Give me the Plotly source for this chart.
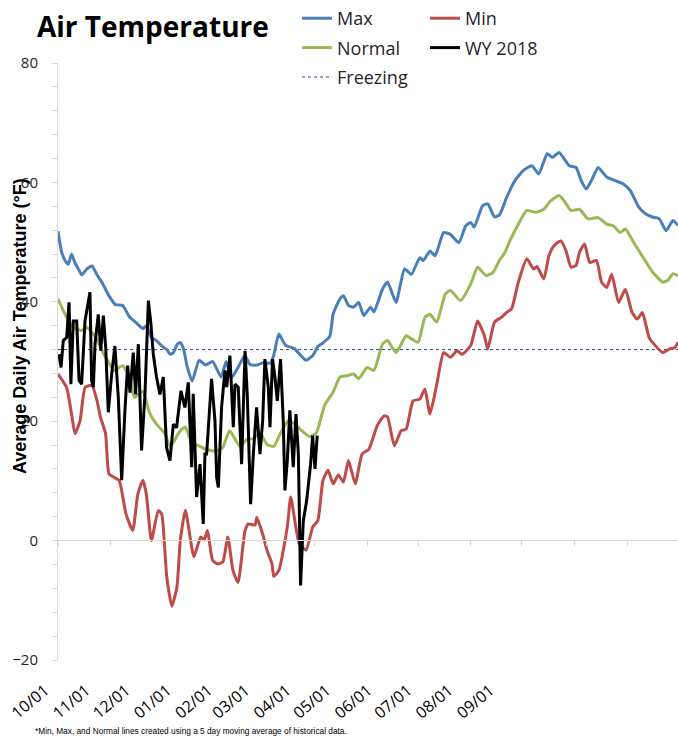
import pandas as pd
import plotly.graph_objects as go

START = pd.Timestamp("2017-10-01")
YEAR_DAYS = 365
FREEZING = 32

month_labels = ["10/01", "11/01", "12/01", "01/01", "02/01", "03/01",
                "04/01", "05/01", "06/01", "07/01", "08/01", "09/01"]

max_days = [0, 2, 4, 6, 8, 10, 12, 14, 17, 20, 23, 26, 30, 34, 38, 42, 46, 50, 52, 55,
            58, 61, 64, 66, 68, 70, 72, 74, 76, 79, 83, 87, 91, 96, 99, 102, 106, 110,
            113, 117, 121, 125, 127, 130, 134, 139, 143, 146, 150, 153, 156, 160, 162,
            166, 168, 171, 174, 177, 180, 184, 186, 191, 194, 199, 204, 208, 213, 215,
            219, 222, 227, 231, 236, 240, 243, 245, 250, 253, 257, 260, 264, 269, 274,
            279, 283, 288, 291, 295, 301, 305, 308, 311, 314, 318, 323, 328, 333, 337,
            342, 346, 350, 354, 358, 362, 365]
max_vals = [51.8, 48.5, 47, 46.3, 48, 46.5, 45.5, 44.5, 45.5, 46, 44.5, 43.2, 41, 39.5,
            39.4, 37.5, 36.5, 35.5, 36, 34, 33.5, 32.6, 32, 31.2, 31.5, 32.8, 33.2, 32,
            29.2, 26.7, 30.2, 29.4, 30, 27.4, 30, 27.2, 29, 31, 29.5, 29.4, 29.8, 29.7,
            31, 34.6, 32.7, 32.2, 31, 30.2, 31, 32.5, 33.1, 34.2, 38, 40.5, 41, 39.4,
            39.1, 39.9, 37.7, 39.1, 38.3, 42.1, 43.3, 39.9, 45.5, 44.6, 47.4, 46.9, 48.5,
            47.7, 51.6, 51.3, 49.9, 52.7, 53.3, 52.5, 56.1, 56.4, 54.2, 54.6, 57.4, 60.3,
            62, 62.8, 61.4, 64.8, 64.2, 65, 62.8, 62.5, 60.3, 58.9, 60.3, 62.5, 60.9,
            60.3, 59.7, 58.6, 55.8, 54.7, 54.2, 53.9, 51.9, 53.6, 52.8]

normal_days = [0, 4, 9, 14, 17, 22, 28, 33, 38, 42, 45, 50, 54, 58, 63, 66, 70, 72, 75,
               79, 82, 87, 93, 97, 101, 107, 111, 115, 119, 123, 127, 131, 136, 142, 148,
               152, 157, 162, 166, 170, 174, 177, 182, 186, 191, 194, 199, 205, 208, 212,
               216, 219, 223, 228, 231, 237, 243, 247, 252, 256, 260, 263, 266, 271, 276,
               281, 286, 290, 295, 298, 302, 307, 312, 318, 323, 327, 331, 334, 339, 345,
               350, 356, 359, 362, 365]
normal_vals = [40.5, 38, 35.7, 35.2, 35.7, 34.1, 30.7, 28.5, 29.3, 27.4, 24, 25, 21.3,
               19.5, 17.9, 15.7, 17.5, 18.4, 19, 16.2, 16, 15.3, 15, 15.6, 18.4, 15.8,
               16.9, 17.1, 18, 16.1, 15.8, 18, 20.2, 18.8, 17.4, 18, 22.7, 24.9, 27.4,
               27.6, 27.9, 27.1, 29, 28.5, 32.9, 33.5, 31.5, 34.3, 33.8, 33.2, 37.4, 37.9,
               36.6, 41.3, 41.9, 40.2, 43, 45.8, 44.4, 44.9, 47, 48.2, 50.2, 53, 55.3, 55,
               55.5, 56.9, 57.8, 56.9, 55.3, 55.5, 53.9, 54.1, 53, 52.7, 51.6, 52.2, 49.9,
               47.2, 45, 43.3, 43.6, 44.7, 44.4]

min_days = [0, 5, 8, 10, 13, 16, 20, 23, 25, 28, 30, 33, 36, 40, 44, 47, 50, 52, 55, 59,
            61, 64, 67, 70, 72, 75, 80, 84, 86, 88, 91, 94, 97, 100, 103, 106, 110, 112,
            116, 117, 121, 123, 126, 127, 130, 135, 137, 140, 142, 146, 150, 153, 156,
            159, 162, 165, 168, 171, 175, 179, 183, 188, 192, 194, 198, 202, 205, 209,
            213, 216, 219, 223, 227, 231, 235, 238, 243, 247, 251, 253, 257, 261, 264,
            267, 271, 276, 280, 282, 286, 289, 292, 296, 299, 302, 305, 307, 310, 313,
            317, 320, 323, 326, 330, 334, 338, 341, 344, 348, 350, 356, 360, 363, 365]
min_vals = [27.9, 25.7, 21.2, 17.9, 20.1, 25.7, 26, 23.4, 20.7, 17.9, 11.2, 10.6, 10.1,
            4.5, 1.7, 7.8, 10.1, 7.8, 0, 5, 4.5, -6, -11, -7.8, 0, 5.1, -2.7, 0.6, 0.1,
            1.7, -3.3, -3.9, -3.6, 0.6, -5, -7, 1.5, 2.8, 2.6, 3.9, 0.6, -1.6, -3.9, -6,
            -5, 2.3, 7.3, 2.3, -0.5, -1.6, 2.3, 3.4, 10.1, 11.8, 9.5, 11, 9.8, 13.4, 9.5,
            14.5, 15.3, 19.3, 20.9, 20.7, 15.9, 18.4, 18.7, 23.4, 23.7, 25.4, 21.2, 26.2,
            31.5, 30.7, 31.8, 31.2, 32.7, 36.8, 34.3, 32.1, 36.6, 37.4, 38.2, 38.8, 43.3,
            47.2, 45.5, 45.9, 43.8, 47.7, 49.4, 50.2, 48.6, 45.8, 46.1, 48.3, 49.7, 46.6,
            46.9, 43.3, 42.4, 44.6, 39.9, 42.1, 38.2, 37.1, 38.2, 34, 33.2, 31.5, 32.1,
            32.3, 33.2]

wy_days = [0.6, 1.8, 3.1, 5.1, 6.5, 7.6, 9, 11, 12.4, 13.9, 15.9, 17.8, 18.8, 19.8, 20.8,
           21.8, 23.7, 25.2, 26.7, 28.1, 29.6, 31.6, 33.5, 35.5, 37.5, 39.4, 41, 42.4,
           44.3, 45.7, 47.3, 49.2, 51.2, 53.2, 54.7, 56.1, 58, 60, 62, 63.9, 65.9, 67.9,
           69.8, 72.4, 74.7, 76.7, 78.7, 79.6, 81.6, 83.6, 85.5, 86.5, 87.5, 90.4, 92.4,
           93.4, 94.4, 96.3, 98.3, 99.3, 101.2, 102.2, 103.2, 104.2, 106.1, 108.1, 110.1,
           111.4, 113.4, 115, 116.9, 118.9, 120.5, 121.8, 123.8, 124.8, 126.3, 127.7,
           129.1, 131, 132.6, 133.6, 135, 136.5, 138.5, 140.1, 141.5, 142.8, 144.4,
           146.4, 148.7, 149.9, 151.3, 152.6]
wy_vals = [31.2, 29, 33.5, 34, 39.9, 26.2, 36.8, 36.8, 26.8, 26.2, 36.8, 40.5, 41.6, 26.8,
           25.7, 32.9, 37.9, 31.8, 37.7, 32.3, 21.5, 27.9, 32.6, 24, 10.1, 21.8, 29.3,
           24.8, 31.5, 24.5, 32.9, 15.1, 24.5, 40.2, 36.3, 31.2, 27.4, 24.5, 27.4, 15.6,
           13.4, 19.5, 18.9, 25.1, 22.3, 26.5, 12.3, 24.6, 7.3, 12.8, 2.8, 14.5, 14.5,
           27.1, 20.1, 10.6, 8.9, 22.3, 28.5, 25.7, 31, 25.1, 19, 26.2, 25.7, 12.8, 31.8,
           24.6, 6.1, 14.5, 22.3, 14.5, 20.1, 30.4, 25.7, 19, 30.4, 27.4, 23.4, 30.4,
           20.1, 8.4, 13.4, 21.8, 12.3, 21.2, 14.5, -7.5, 3.3, 6.7, 12.8, 17.6, 12, 17.6]


def to_dates(days):
    stamps = START + pd.to_timedelta(days, unit="D")
    return [s.strftime("%Y-%m-%d %H:%M:%S") for s in stamps]


month_ticks = [d.strftime("%Y-%m-%d") for d in pd.date_range(START, periods=12, freq="MS")]
x_start_s = START.strftime("%Y-%m-%d")
x_end_s = (START + pd.Timedelta(days=YEAR_DAYS)).strftime("%Y-%m-%d")

W, H = 678, 739
T_M = 63
PH = H - T_M  # paper height (b margin = 0)


def py(pix):  # pixel row -> paper fraction
    return (H - pix) / PH


AX = "#d9d9d9"
TXT = "#262626"

fig = go.Figure()
fig.add_trace(go.Scatter(x=[x_start_s, x_end_s], y=[FREEZING, FREEZING], mode="lines",
                         name="Freezing", line=dict(color="#2a4a8c", width=1, dash="dot"),
                         legend="legend", legendgroup="f", legendrank=3))
fig.add_trace(go.Scatter(x=to_dates(max_days), y=max_vals, mode="lines", name="Max",
                         line=dict(color="#4a7ebb", width=3, shape="spline", smoothing=0.5),
                         legend="legend", legendgroup="a", legendrank=1))
fig.add_trace(go.Scatter(x=to_dates(min_days), y=min_vals, mode="lines", name="Min",
                         line=dict(color="#be4b48", width=3, shape="spline", smoothing=0.5),
                         legend="legend2", legendgroup="b", legendrank=1))
fig.add_trace(go.Scatter(x=to_dates(normal_days), y=normal_vals, mode="lines", name="Normal",
                         line=dict(color="#98b954", width=3, shape="spline", smoothing=0.5),
                         legend="legend", legendgroup="c", legendrank=2))
fig.add_trace(go.Scatter(x=to_dates(wy_days), y=wy_vals, mode="lines", name="WY 2018",
                         line=dict(color="#000000", width=3),
                         legend="legend2", legendgroup="d", legendrank=2))
# carrier for the tick-label axis (draws nothing)
fig.add_trace(go.Scatter(x=month_ticks, y=[FREEZING] * len(month_ticks), xaxis="x2",
                         yaxis="y", mode="lines", line=dict(width=0), opacity=0,
                         showlegend=False, hoverinfo="skip"))

legend_common = dict(yref="container", xref="container", y=1.0, yanchor="top",
                     xanchor="left", bgcolor="white", borderwidth=0, tracegroupgap=3,
                     font=dict(family="Open Sans", size=18, color=TXT),
                     orientation="v", itemwidth=30)

fig.update_layout(
    width=W, height=H,
    margin=dict(l=0, r=0, t=T_M, b=0, pad=0, autoexpand=False),
    paper_bgcolor="white", plot_bgcolor="rgba(0,0,0,0)",
    title=dict(text="<b>Air Temperature</b>", xref="container", yref="container",
               x=37 / W, xanchor="left", y=1 - 27 / H, yanchor="middle",
               font=dict(family="Open Sans", size=28, color="#000000")),
    legend=dict(x=297 / W, **legend_common),
    legend2=dict(x=425 / W, **legend_common),
    xaxis=dict(type="date", domain=[58 / W, 1], range=[x_start_s, x_end_s], anchor="free",
               position=py(540), showline=True, linecolor=AX, linewidth=1, ticks="outside",
               ticklen=5, tickcolor=AX, tickmode="array", tickvals=month_ticks,
               showticklabels=False, showgrid=False, zeroline=False, automargin=False),
    xaxis2=dict(type="date", domain=[45 / W, 530 / W], range=[x_start_s, x_end_s],
                anchor="free", position=py(677), showline=False, ticks="",
                tickmode="array", tickvals=month_ticks, ticktext=month_labels,
                tickangle=-40, showgrid=False, zeroline=False, automargin=False,
                tickfont=dict(family="Open Sans", size=16, color="#000000")),
    yaxis=dict(domain=[py(660), 1], range=[-20, 80], anchor="x", dtick=20, tick0=0,
               showline=True, linecolor=AX, linewidth=1, ticks="outside", ticklen=5,
               tickcolor=AX, showgrid=False, zeroline=False, ticklabelstandoff=11,
               automargin=False,
               tickfont=dict(family="Open Sans", size=15, color=TXT),
               minor=dict(dtick=4, tick0=0, ticks="outside", ticklen=5, tickcolor=AX,
                          showgrid=False)),
    annotations=[
        dict(text="<b>Average Daily Air Temperature (°F)</b>", textangle=-90,
             xref="paper", yref="paper", x=20 / W, y=py(326), xanchor="center",
             yanchor="middle", showarrow=False,
             font=dict(family="Liberation Sans", size=18, color="#000000")),
        dict(text="*Min, Max, and Normal lines created using a 5 day moving average of historical data.",
             xref="paper", yref="paper", x=33 / W, y=py(731), xanchor="left",
             yanchor="middle", showarrow=False,
             font=dict(family="Liberation Sans", size=8.3, color="#000000")),
    ],
    showlegend=True,
)

fig.write_html("out.html", config={"displayModeBar": False},
               post_script="document.body.style.margin='0';")
